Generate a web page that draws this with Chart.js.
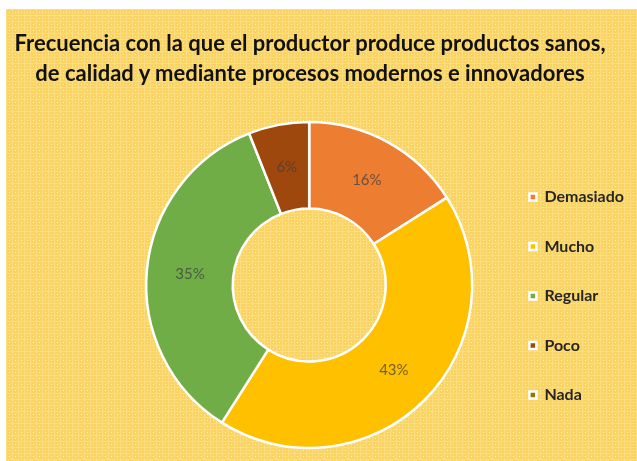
<!DOCTYPE html>
<html lang="es">
<head>
<meta charset="utf-8">
<title>Frecuencia de producción</title>
<script src="https://cdn.jsdelivr.net/npm/chart.js@4.4.1/dist/chart.umd.min.js"></script>
<style>
  html, body { margin: 0; background: #fff; }
  #wrap { position: absolute; left: 6px; top: 9px; width: 631px; height: 452px; }
  #chartTitle {
    position: absolute; left: 0; top: 28px; width: 620px;
    text-align: center; white-space: nowrap;
    font: bold 22px/30px Lato, Calibri, "Open Sans", sans-serif;
    color: #111;
  }
</style>
</head>
<body>
<div id="wrap"><canvas id="freqChart" width="631" height="452"></canvas></div>
<div id="chartTitle"></div>
<script>
const categories = ["Demasiado", "Mucho", "Regular", "Poco", "Nada"];
const percents   = [16, 43, 35, 6, 0];
const sliceColors = ["#ED7D31", "#FFC000", "#70AD47", "#9E480E", "#997300"];
const titleLines = [
  "Frecuencia con la que el productor produce productos sanos,",
  "de calidad y mediante procesos modernos e innovadores"
];

const FONT = "Lato, Calibri, 'Open Sans', sans-serif";

document.getElementById("chartTitle").innerHTML = titleLines.join("<br>");

// small tile for the dotted yellow paper behind the chart
function paperTile() {
  const c = document.createElement("canvas");
  c.width = 6; c.height = 6;
  const g = c.getContext("2d");
  g.fillStyle = "#F9D463"; g.fillRect(0, 0, 6, 6);
  g.fillStyle = "#FBDD86"; g.fillRect(0, 0, 6, 1); g.fillRect(0, 0, 1, 6);
  g.fillStyle = "#FFEFC2"; g.fillRect(3, 3, 1, 1);
  return c;
}

const paperBg = {
  id: "paperBg",
  beforeDraw(chart) {
    const { ctx, width, height } = chart;
    ctx.save();
    ctx.fillStyle = ctx.createPattern(paperTile(), "repeat");
    ctx.fillRect(0, 0, width, height);
    ctx.restore();
  }
};

// percentage text in the middle of each ring slice
const pctLabels = {
  id: "pctLabels",
  afterDatasetsDraw(chart) {
    const { ctx } = chart;
    const meta = chart.getDatasetMeta(0);
    ctx.save();
    ctx.font = "15px " + FONT;
    ctx.fillStyle = "rgba(64,64,64,0.75)";
    ctx.textAlign = "center";
    ctx.textBaseline = "middle";
    meta.data.forEach((arc, i) => {
      const v = percents[i];
      if (!v) return;
      const p = arc.tooltipPosition();
      ctx.fillText(v + "%", p.x, p.y);
    });
    ctx.restore();
  }
};

new Chart(document.getElementById("freqChart"), {
  type: "doughnut",
  data: {
    labels: categories,
    datasets: [{
      data: percents,
      backgroundColor: sliceColors,
      borderColor: "#fff",
      borderWidth: 2.5,
      radius: 163,
      cutout: 82
    }]
  },
  options: {
    responsive: false,
    animation: false,
    // top padding leaves room for the two-line heading
    layout: { padding: { left: 116.5, right: 3, top: 100, bottom: 0 } },
    plugins: {
      tooltip: { enabled: false },
      title: { display: false },
      legend: {
        position: "right",
        fullSize: false,
        // empty title only nudges the items down a bit
        title: { display: true, text: "", padding: 5, font: { size: 12, lineHeight: 1 } },
        labels: {
          boxWidth: 7,
          boxHeight: 7,
          padding: 33.5,
          color: "#262626",
          font: { family: FONT, size: 16, weight: "bold" }
        }
      }
    }
  },
  plugins: [paperBg, pctLabels]
});
</script>
</body>
</html>
